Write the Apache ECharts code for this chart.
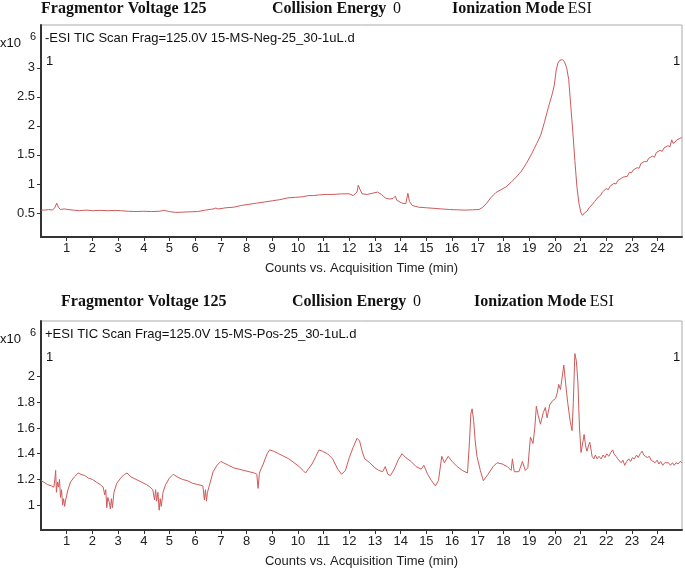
<!DOCTYPE html>
<html>
<head>
<meta charset="utf-8">
<script src="https://cdn.jsdelivr.net/npm/echarts@6/dist/echarts.min.js"></script>
<style>
  html, body { margin: 0; padding: 0; background: #fff; }
  #chart { width: 685px; height: 569px; }
</style>
</head>
<body>
<div id="chart"></div>
<script>
// -ESI trace (counts x10^6 vs. minutes)
const negTimes = [0.00, 0.15, 0.30, 0.45, 0.55, 0.61, 0.68, 0.75, 0.90, 1.05, 1.25, 1.50, 1.75, 2.00, 2.30, 2.60, 2.90, 3.10, 3.40, 3.70,
  4.00, 4.30, 4.60, 4.80, 5.00, 5.25, 5.50, 5.80, 6.10, 6.40, 6.70, 6.80, 6.90, 7.20, 7.50, 7.80, 8.10, 8.40, 8.70, 9.00,
  9.30, 9.60, 9.90, 10.20, 10.40, 10.60, 10.80, 11.10, 11.40, 11.70, 12.00, 12.15, 12.22, 12.30, 12.35, 12.42, 12.50, 12.70, 12.90, 13.10,
  13.25, 13.40, 13.55, 13.70, 13.79, 13.85, 14.05, 14.20, 14.28, 14.34, 14.45, 14.70, 15.00, 15.30, 15.60, 15.90, 16.20, 16.50, 16.80, 17.05,
  17.20, 17.35, 17.50, 17.70, 17.90, 18.10, 18.30, 18.50, 18.70, 18.90, 19.10, 19.30, 19.45, 19.60, 19.75, 19.90, 19.98, 20.05, 20.12, 20.20,
  20.30, 20.38, 20.46, 20.54, 20.62, 20.70, 20.78, 20.86, 20.94, 21.02, 21.08, 21.15, 21.25, 21.35, 21.45, 21.55, 21.62, 21.70, 21.78, 21.85,
  21.92, 22.00, 22.08, 22.15, 22.22, 22.30, 22.38, 22.45, 22.52, 22.60, 22.68, 22.75, 22.82, 22.90, 22.98, 23.05, 23.12, 23.20, 23.28, 23.35,
  23.42, 23.50, 23.58, 23.65, 23.72, 23.80, 23.88, 23.95, 24.02, 24.10, 24.18, 24.25, 24.32, 24.40, 24.48, 24.55, 24.60, 24.68, 24.75, 24.82,
  24.90, 24.95];
const negCounts = [0.55, 0.55, 0.56, 0.55, 0.60, 0.67, 0.60, 0.56, 0.57, 0.56, 0.55, 0.54, 0.55, 0.54, 0.545, 0.54, 0.545, 0.54, 0.53, 0.525,
  0.53, 0.525, 0.53, 0.545, 0.525, 0.51, 0.515, 0.52, 0.525, 0.55, 0.57, 0.585, 0.57, 0.59, 0.60, 0.63, 0.65, 0.67, 0.69, 0.71,
  0.73, 0.76, 0.77, 0.78, 0.80, 0.80, 0.81, 0.82, 0.82, 0.83, 0.83, 0.80, 0.78, 0.86, 0.98, 0.90, 0.83, 0.82, 0.84, 0.86,
  0.82, 0.76, 0.74, 0.75, 0.79, 0.72, 0.67, 0.66, 0.84, 0.70, 0.63, 0.60, 0.59, 0.58, 0.57, 0.56, 0.555, 0.55, 0.555, 0.56,
  0.60, 0.67, 0.76, 0.85, 0.90, 0.95, 1.03, 1.12, 1.22, 1.36, 1.52, 1.70, 1.84, 2.07, 2.32, 2.55, 2.70, 2.95, 3.08, 3.13,
  3.14, 3.10, 3.00, 2.80, 2.35, 1.90, 1.40, 0.95, 0.66, 0.50, 0.46, 0.50, 0.53, 0.60, 0.64, 0.70, 0.72, 0.78, 0.80, 0.86,
  0.85, 0.92, 0.90, 0.96, 0.97, 1.01, 1.00, 1.06, 1.05, 1.10, 1.12, 1.14, 1.13, 1.20, 1.19, 1.24, 1.26, 1.28, 1.27, 1.35,
  1.32, 1.39, 1.38, 1.44, 1.42, 1.48, 1.46, 1.54, 1.52, 1.58, 1.56, 1.62, 1.60, 1.66, 1.64, 1.76, 1.70, 1.72, 1.76, 1.74,
  1.79, 1.80];

// +ESI trace
const posTimes = [0.00, 0.10, 0.25, 0.40, 0.50, 0.55, 0.57, 0.60, 0.64, 0.68, 0.72, 0.76, 0.80, 0.84, 0.88, 0.92, 0.96, 1.05, 1.15, 1.30,
  1.45, 1.55, 1.70, 1.85, 2.00, 2.15, 2.30, 2.42, 2.48, 2.52, 2.56, 2.60, 2.66, 2.70, 2.74, 2.78, 2.84, 2.95, 3.10, 3.25,
  3.35, 3.50, 3.70, 3.90, 4.10, 4.25, 4.35, 4.42, 4.46, 4.50, 4.55, 4.60, 4.64, 4.68, 4.75, 4.85, 5.00, 5.15, 5.30, 5.50,
  5.70, 5.90, 6.10, 6.30, 6.36, 6.40, 6.44, 6.48, 6.55, 6.70, 6.85, 7.00, 7.10, 7.30, 7.50, 7.70, 7.90, 8.10, 8.30, 8.40,
  8.45, 8.50, 8.65, 8.80, 8.90, 9.05, 9.25, 9.45, 9.65, 9.85, 10.05, 10.20, 10.30, 10.40, 10.55, 10.70, 10.82, 10.95, 11.15, 11.35,
  11.55, 11.70, 11.85, 12.00, 12.15, 12.30, 12.40, 12.50, 12.60, 12.80, 13.00, 13.15, 13.30, 13.40, 13.50, 13.60, 13.75, 13.90, 14.05, 14.20,
  14.40, 14.60, 14.80, 14.90, 15.05, 15.20, 15.35, 15.47, 15.60, 15.70, 15.85, 16.00, 16.20, 16.40, 16.60, 16.68, 16.73, 16.78, 16.84, 16.90,
  16.97, 17.10, 17.22, 17.40, 17.60, 17.75, 17.95, 18.15, 18.30, 18.35, 18.42, 18.60, 18.74, 18.85, 18.95, 19.05, 19.15, 19.22, 19.28, 19.35,
  19.44, 19.55, 19.63, 19.70, 19.80, 19.90, 20.03, 20.10, 20.15, 20.22, 20.35, 20.42, 20.50, 20.60, 20.67, 20.72, 20.78, 20.84, 20.90, 20.96,
  21.02, 21.10, 21.14, 21.20, 21.25, 21.32, 21.36, 21.42, 21.45, 21.52, 21.58, 21.65, 21.72, 21.80, 21.88, 21.95, 22.02, 22.10, 22.18, 22.25,
  22.30, 22.38, 22.45, 22.52, 22.58, 22.65, 22.72, 22.80, 22.88, 22.95, 23.02, 23.10, 23.18, 23.25, 23.32, 23.40, 23.46, 23.52, 23.60, 23.68,
  23.75, 23.82, 23.90, 23.98, 24.05, 24.12, 24.20, 24.28, 24.35, 24.42, 24.50, 24.58, 24.65, 24.72, 24.80, 24.88, 24.95];
const posCounts = [1.19, 1.18, 1.16, 1.15, 1.14, 1.22, 1.27, 1.10, 1.18, 1.14, 1.20, 1.06, 1.12, 1.00, 1.05, 0.99, 1.04, 1.12, 1.18, 1.22,
  1.25, 1.24, 1.23, 1.21, 1.20, 1.18, 1.16, 1.14, 1.08, 1.12, 0.98, 1.06, 1.02, 0.97, 1.05, 0.98, 1.10, 1.17, 1.21, 1.24,
  1.25, 1.22, 1.20, 1.18, 1.16, 1.14, 1.12, 1.04, 1.12, 1.03, 1.10, 0.96, 1.05, 0.99, 1.10, 1.16, 1.21, 1.24, 1.22, 1.20,
  1.19, 1.17, 1.16, 1.15, 1.04, 1.12, 1.03, 1.10, 1.15, 1.26, 1.31, 1.34, 1.33, 1.31, 1.29, 1.28, 1.27, 1.26, 1.25, 1.24,
  1.13, 1.25, 1.32, 1.40, 1.43, 1.42, 1.40, 1.38, 1.36, 1.33, 1.30, 1.27, 1.25, 1.28, 1.32, 1.38, 1.43, 1.42, 1.40, 1.36,
  1.28, 1.24, 1.27, 1.37, 1.45, 1.52, 1.50, 1.42, 1.36, 1.33, 1.29, 1.27, 1.26, 1.30, 1.24, 1.23, 1.28, 1.35, 1.40, 1.37,
  1.34, 1.30, 1.28, 1.31, 1.24, 1.19, 1.15, 1.19, 1.38, 1.33, 1.38, 1.34, 1.30, 1.27, 1.25, 1.50, 1.71, 1.75, 1.66, 1.50,
  1.38, 1.27, 1.19, 1.24, 1.30, 1.33, 1.32, 1.30, 1.27, 1.36, 1.26, 1.26, 1.34, 1.27, 1.29, 1.53, 1.48, 1.60, 1.77, 1.70,
  1.63, 1.72, 1.76, 1.68, 1.78, 1.81, 1.83, 1.88, 1.94, 1.90, 2.09, 1.95, 1.80, 1.65, 1.58, 1.80, 2.18, 2.12, 1.95, 1.60,
  1.41, 1.50, 1.55, 1.46, 1.42, 1.47, 1.49, 1.42, 1.38, 1.36, 1.39, 1.36, 1.38, 1.36, 1.39, 1.37, 1.40, 1.38, 1.41, 1.43,
  1.40, 1.38, 1.36, 1.37, 1.33, 1.35, 1.31, 1.34, 1.36, 1.34, 1.37, 1.36, 1.39, 1.37, 1.40, 1.42, 1.39, 1.40, 1.37, 1.38,
  1.35, 1.36, 1.33, 1.35, 1.32, 1.34, 1.31, 1.33, 1.32, 1.33, 1.31, 1.33, 1.31, 1.33, 1.32, 1.34, 1.33];

const timeTicks = [1, 2, 3, 4, 5, 6, 7, 8, 9, 10, 11, 12, 13, 14, 15, 16, 17, 18, 19, 20, 21, 22, 23, 24];
const negTicks = [0.5, 1, 1.5, 2, 2.5, 3];
const posTicks = [1, 1.2, 1.4, 1.6, 1.8, 2];

const sans = '"Liberation Sans", Arial, sans-serif';
const serif = '"Liberation Serif", "Times New Roman", serif';
const lineColor = '#cf5a5a';

function pairs(xs, ys) {
  return xs.map((x, i) => [x, ys[i]]);
}

function xAxisFor(idx) {
  return {
    type: 'value',
    gridIndex: idx,
    min: 0,
    max: 24.95,
    splitLine: { show: false },
    axisLine: { lineStyle: { color: '#333', width: 2 } },
    axisTick: { customValues: timeTicks, length: 4, lineStyle: { color: '#333' } },
    axisLabel: { customValues: timeTicks, color: '#222', fontSize: 13, fontFamily: sans, margin: 5 },
    name: 'Counts vs. Acquisition Time (min)',
    nameLocation: 'middle',
    nameGap: 25,
    nameTextStyle: { color: '#222', fontSize: 13, fontFamily: sans }
  };
}

function yAxisFor(idx, min, max, ticks) {
  return {
    type: 'value',
    gridIndex: idx,
    min: min,
    max: max,
    splitLine: { show: false },
    axisLine: { show: true, lineStyle: { color: '#333', width: 2 } },
    axisTick: { show: true, customValues: ticks, length: 4, lineStyle: { color: '#333' } },
    axisLabel: { customValues: ticks, color: '#222', fontSize: 13, fontFamily: sans, margin: 6 }
  };
}

function header(top, xs) {
  const rich = {
    b: { font: 'bold 16px ' + serif, fill: '#111' },
    n: { font: '16px ' + serif, fill: '#111' }
  };
  return [
    { type: 'text', left: xs[0], top: top, style: { text: '{b|Fragmentor Voltage 125}', rich: rich } },
    { type: 'text', left: xs[1], top: top, style: { text: '{b|Collision Energy}  {n|0}', rich: rich } },
    { type: 'text', left: xs[2], top: top, style: { text: '{b|Ionization Mode} {n|ESI}', rich: rich } }
  ];
}

function plotTexts(boxTop, title) {
  const t = { fill: '#111', font: '13px ' + sans };
  return [
    { type: 'text', left: 0, top: boxTop + 12, style: Object.assign({ text: 'x10' }, t) },
    { type: 'text', left: 30, top: boxTop + 6, style: { text: '6', fill: '#111', font: '11px ' + sans } },
    { type: 'text', left: 45, top: boxTop + 7, style: Object.assign({ text: title }, t) },
    { type: 'text', left: 46, top: boxTop + 30, style: Object.assign({ text: '1' }, t) },
    { type: 'text', left: 673, top: boxTop + 30, style: Object.assign({ text: '1' }, t) }
  ];
}

const chart = echarts.init(document.getElementById('chart'), null, { renderer: 'canvas' });

chart.setOption({
  animation: false,
  backgroundColor: '#fff',
  grid: [
    { left: 41, top: 25, width: 641, height: 212, show: true, borderColor: '#aaa', borderWidth: 1 },
    { left: 41, top: 321, width: 641, height: 210, show: true, borderColor: '#aaa', borderWidth: 1 }
  ],
  xAxis: [xAxisFor(0), xAxisFor(1)],
  yAxis: [yAxisFor(0, 0.087, 3.736, negTicks), yAxisFor(1, 0.806, 2.434, posTicks)],
  series: [
    {
      name: '-ESI TIC',
      type: 'line',
      xAxisIndex: 0,
      yAxisIndex: 0,
      data: pairs(negTimes, negCounts),
      showSymbol: false,
      lineStyle: { color: lineColor, width: 1 }
    },
    {
      name: '+ESI TIC',
      type: 'line',
      xAxisIndex: 1,
      yAxisIndex: 1,
      data: pairs(posTimes, posCounts),
      showSymbol: false,
      lineStyle: { color: lineColor, width: 1 }
    }
  ],
  graphic: [].concat(
    header(1, [41, 272, 452]),
    header(294, [61, 292, 474]),
    plotTexts(25, '-ESI TIC Scan Frag=125.0V 15-MS-Neg-25_30-1uL.d'),
    plotTexts(321, '+ESI TIC Scan Frag=125.0V 15-MS-Pos-25_30-1uL.d')
  )
});
</script>
</body>
</html>
